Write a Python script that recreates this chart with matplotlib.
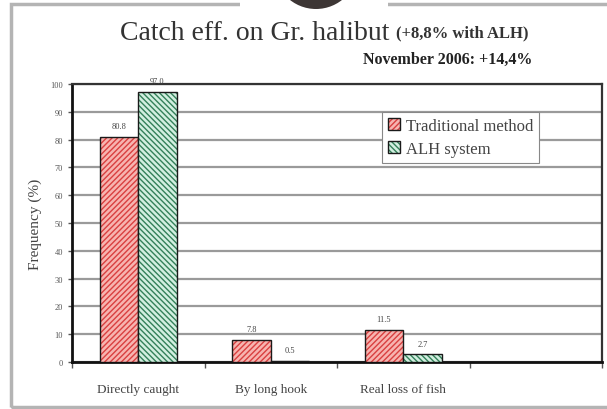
import numpy as np
import matplotlib.pyplot as plt
from matplotlib.patches import Rectangle, Ellipse

plt.rcParams['font.family'] = ['Liberation Serif', 'DejaVu Serif']
plt.rcParams['hatch.linewidth'] = 1.0

categories = ['Directly caught', 'By long hook', 'Real loss of fish']
traditional = [80.8, 7.8, 11.5]
alh = [97.0, 0.5, 2.7]
series_names = ['Traditional method', 'ALH system']

W, H = 607, 410
fig = plt.figure(figsize=(W / 100, H / 100), dpi=100)
fig.patch.set_facecolor('white')

# outer frame (runs off the right edge), broken at the top for the badge
fig.add_artist(Rectangle((11 / W, 2 / H), 620 / W, 403 / H, transform=fig.transFigure,
                         fill=False, edgecolor='#b4b4b4', linewidth=2.5, zorder=0))
fig.add_artist(Rectangle((240 / W, 398 / H), 148 / W, 14 / H, transform=fig.transFigure,
                         facecolor='white', edgecolor='none', zorder=1))
fig.add_artist(Ellipse((316 / W, 442 / H), 84 / W, 84 / H, transform=fig.transFigure,
                       facecolor='#3d3635', edgecolor='none', zorder=2))

ax = fig.add_axes([72 / W, 47 / H, 530 / W, 278 / H])
x = np.arange(len(categories))
w = 0.29

b1 = ax.bar(x - w / 2, traditional, w, facecolor='#f7b4b0', edgecolor='#1a1a1a',
            hatch='//////', linewidth=1.0, label=series_names[0], zorder=3)
b2 = ax.bar(x + w / 2, alh, w, facecolor='#d2efe0', edgecolor='#1a1a1a',
            hatch='\\\\\\\\\\\\', linewidth=1.0, label=series_names[1], zorder=3)
for bar in b1:
    bar._hatch_color = (0.85, 0.25, 0.25, 1.0)
for bar in b2:
    bar._hatch_color = (0.2, 0.5, 0.35, 1.0)

for xs, vals in ((x - w / 2, traditional), (x + w / 2, alh)):
    for xi, v in zip(xs, vals):
        ax.text(xi, v + 2.5, f'{v:.1f}', ha='center', va='bottom', fontsize=6,
                color='#444444', clip_on=False)

ax.set_xlim(-0.5, 3.5)
ax.set_ylim(0, 100)
ax.set_yticks(np.arange(0, 101, 10))
ax.tick_params(axis='y', labelsize=6, colors='#555555', length=3, width=1)
ax.set_xticks(np.arange(-0.5, 3.6, 1.0))
ax.set_xticklabels([])
ax.set_xticks(x, minor=True)
ax.set_xticklabels(categories, minor=True, fontsize=9.5, color='#444444')
ax.tick_params(axis='x', which='major', length=4, width=1, colors='#555555')
ax.tick_params(axis='x', which='minor', length=0, pad=15)

ax.yaxis.grid(True, color='#9a9a9a', linewidth=1.6, zorder=0)
ax.set_axisbelow(True)
for side in ('left', 'bottom'):
    ax.spines[side].set_linewidth(2.0)
    ax.spines[side].set_color('#111111')
for side in ('top', 'right'):
    ax.spines[side].set_linewidth(1.6)
    ax.spines[side].set_color('#333333')

ax.set_ylabel('Frequency (%)', fontsize=11, color='#444444', labelpad=6)

leg = ax.legend(loc='upper left', bbox_to_anchor=(0.585, 0.90), fontsize=12,
                frameon=True, fancybox=False, framealpha=1, edgecolor='#888888',
                handlelength=0.7, handleheight=0.7, handletextpad=0.4,
                borderpad=0.35, labelspacing=0.45, borderaxespad=0)
leg.get_frame().set_linewidth(0.8)
for t in leg.get_texts():
    t.set_color('#444444')

fig.text(396 / W, 0.918, 'Catch eff. on Gr. halibut ', ha='right', va='center',
         fontsize=20, color='#333333')
fig.text(396 / W, 0.918, '(+8,8% with ALH)', ha='left', va='center',
         fontsize=12, fontweight='bold', color='#333333')
fig.text(532 / W, 0.853, 'November 2006: +14,4%', ha='right', va='center',
         fontsize=11.5, fontweight='bold', color='#222222')

fig.savefig('out.png', dpi=100)
